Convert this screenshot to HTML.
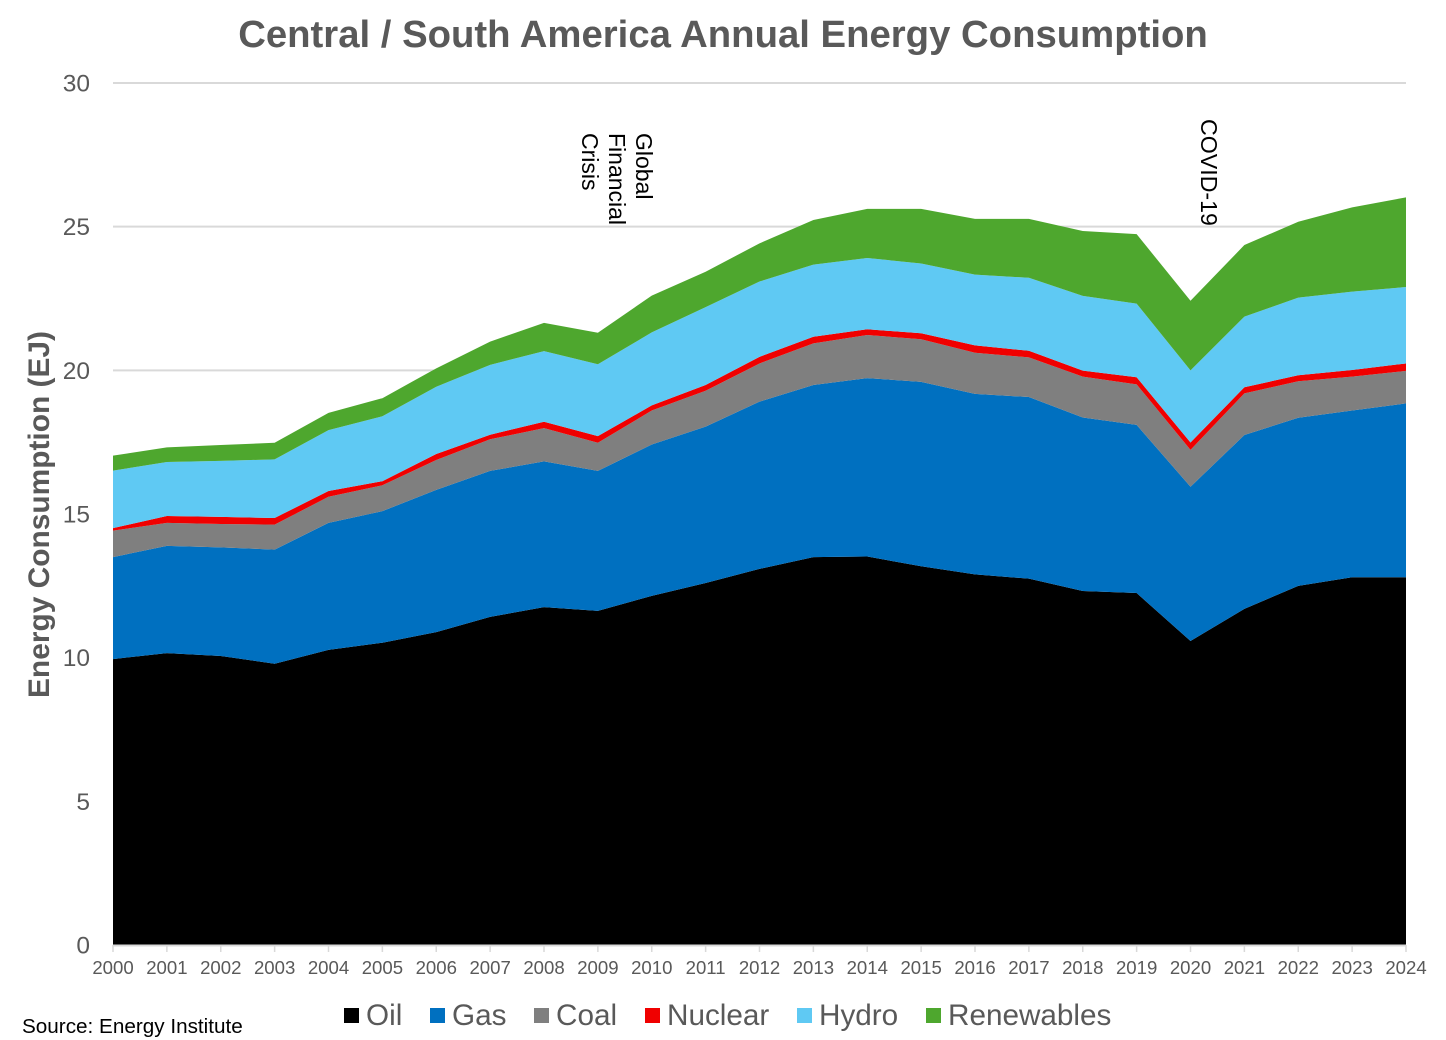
<!DOCTYPE html>
<html lang="en">
<head>
<meta charset="utf-8">
<title>Central / South America Annual Energy Consumption</title>
<style>
html,body{margin:0;padding:0;background:#fff;}
body{width:1446px;height:1040px;overflow:hidden;}
svg{display:block;font-family:"Liberation Sans",Arial,sans-serif;}
</style>
</head>
<body>
<svg id="chart" xmlns="http://www.w3.org/2000/svg" width="1446" height="1040" viewBox="0 0 1446 1040">
  <rect x="0" y="0" width="1446" height="1040" fill="#ffffff"/>
  <text x="723" y="47" text-anchor="middle" font-size="38.3" font-weight="700" fill="#595959">Central / South America Annual Energy Consumption</text>
  <g id="grid"></g>
  <g id="areas"></g>
  <g id="xaxis"></g>
  <g id="yaxis"></g>
  <text transform="translate(49,514.5) rotate(-90)" text-anchor="middle" font-size="29.9" font-weight="700" fill="#595959">Energy Consumption (EJ)</text>
  <g font-size="23" fill="#000000">
    <text transform="translate(636,133) rotate(90)">Global</text>
    <text transform="translate(609,133) rotate(90)">Financial</text>
    <text transform="translate(582,133) rotate(90)">Crisis</text>
  </g>
  <text transform="translate(1201,119) rotate(90)" font-size="23.2" fill="#000000">COVID-19</text>
  <g id="legend"></g>
  <text x="22" y="1033" font-size="20.7" fill="#000000">Source: Energy Institute</text>
</svg>
<script>
const years = [2000,2001,2002,2003,2004,2005,2006,2007,2008,2009,2010,2011,2012,2013,2014,2015,2016,2017,2018,2019,2020,2021,2022,2023,2024];
const yTicks = [0,5,10,15,20,25,30];
const oil = [9.95,10.16,10.06,9.79,10.27,10.52,10.89,11.42,11.76,11.63,12.15,12.6,13.09,13.5,13.52,13.18,12.9,12.75,12.32,12.25,10.58,11.7,12.5,12.8,12.8];
const gas = [3.55,3.73,3.78,3.97,4.42,4.58,4.95,5.08,5.07,4.87,5.27,5.44,5.82,5.99,6.21,6.42,6.28,6.32,6.04,5.85,5.37,6.05,5.85,5.8,6.05];
const coal = [0.92,0.8,0.81,0.87,0.91,0.9,1.04,1.1,1.16,0.98,1.18,1.25,1.33,1.45,1.5,1.48,1.43,1.38,1.42,1.41,1.28,1.45,1.27,1.18,1.13];
const nuclear = [0.09,0.24,0.25,0.23,0.2,0.14,0.21,0.16,0.22,0.23,0.18,0.2,0.23,0.23,0.2,0.21,0.26,0.23,0.21,0.25,0.26,0.21,0.21,0.23,0.26];
const hydro = [2.0,1.88,1.95,2.04,2.12,2.26,2.34,2.43,2.46,2.5,2.54,2.71,2.62,2.51,2.48,2.43,2.46,2.54,2.6,2.56,2.51,2.46,2.7,2.73,2.66];
const renewables = [0.52,0.51,0.55,0.58,0.6,0.63,0.64,0.81,0.98,1.1,1.28,1.23,1.33,1.55,1.71,1.9,1.94,2.05,2.26,2.42,2.42,2.49,2.64,2.93,3.12];
const seriesNames = ['Oil','Gas','Coal','Nuclear','Hydro','Renewables'];
const seriesValues = [oil,gas,coal,nuclear,hydro,renewables];
const seriesColors = ['#000000','#0070c0','#7f7f7f','#f00000','#5fc9f3','#4ea72e'];

const NS = 'http://www.w3.org/2000/svg';
const left = 113, right = 1406, top0 = 83, base = 945;
const yMin = yTicks[0], yMax = yTicks[yTicks.length - 1];
function xPos(i){ return left + (right - left) * i / (years.length - 1); }
function yPos(v){ return base - (base - top0) * (v - yMin) / (yMax - yMin); }
function make(tag, parent, attrs){
  const el = document.createElementNS(NS, tag);
  for (const k in attrs) el.setAttribute(k, attrs[k]);
  parent.appendChild(el);
  return el;
}

const gridG = document.getElementById('grid');
const areasG = document.getElementById('areas');
const xG = document.getElementById('xaxis');
const yG = document.getElementById('yaxis');
const legendG = document.getElementById('legend');

yTicks.forEach(function(t){
  if (t !== yMin) {
    const line = make('line', gridG, {x1:left, x2:right, y1:yPos(t), y2:yPos(t), stroke:'#d9d9d9', 'stroke-width':2});
    
    
  }
  const lab = make('text', yG, {x:90, y:yPos(t) + 8.5, 'text-anchor':'end', 'font-size':24.5, fill:'#595959'});
  lab.textContent = t;
  
  
});

let lower = years.map(function(){ return 0; });
seriesValues.forEach(function(vals, s){
  const upper = vals.map(function(v, i){ return lower[i] + v; });
  const pts = [];
  upper.forEach(function(v, i){ pts.push(xPos(i).toFixed(2) + ',' + yPos(v).toFixed(2)); });
  for (let i = years.length - 1; i >= 0; i--) pts.push(xPos(i).toFixed(2) + ',' + yPos(lower[i]).toFixed(2));
  const poly = make('polygon', areasG, {points:pts.join(' '), fill:seriesColors[s]});
  
  
  lower = upper;
});

const axisLine = make('line', xG, {x1:left, x2:right, y1:base + 0.5, y2:base + 0.5, stroke:'#d9d9d9', 'stroke-width':2});


years.forEach(function(y, i){
  const tick = make('line', xG, {x1:xPos(i), x2:xPos(i), y1:base, y2:base + 7, stroke:'#d9d9d9', 'stroke-width':1.5});
  
  
  const lab = make('text', xG, {x:xPos(i), y:974, 'text-anchor':'middle', 'font-size':18.6, fill:'#595959'});
  lab.textContent = y;
  
  
});

const legendStart = [344,430,534,645,797,926];
seriesNames.forEach(function(name, s){
  const entry = make('g', legendG, {});
  
  
  const swatch = make('rect', entry, {x:legendStart[s], y:1008, width:15, height:15, fill:seriesColors[s]});
  
  
  const txt = make('text', entry, {x:legendStart[s] + 22, y:1025, 'font-size':29.7, fill:'#595959'});
  txt.textContent = name;
  
  
});
</script>
</body>
</html>
